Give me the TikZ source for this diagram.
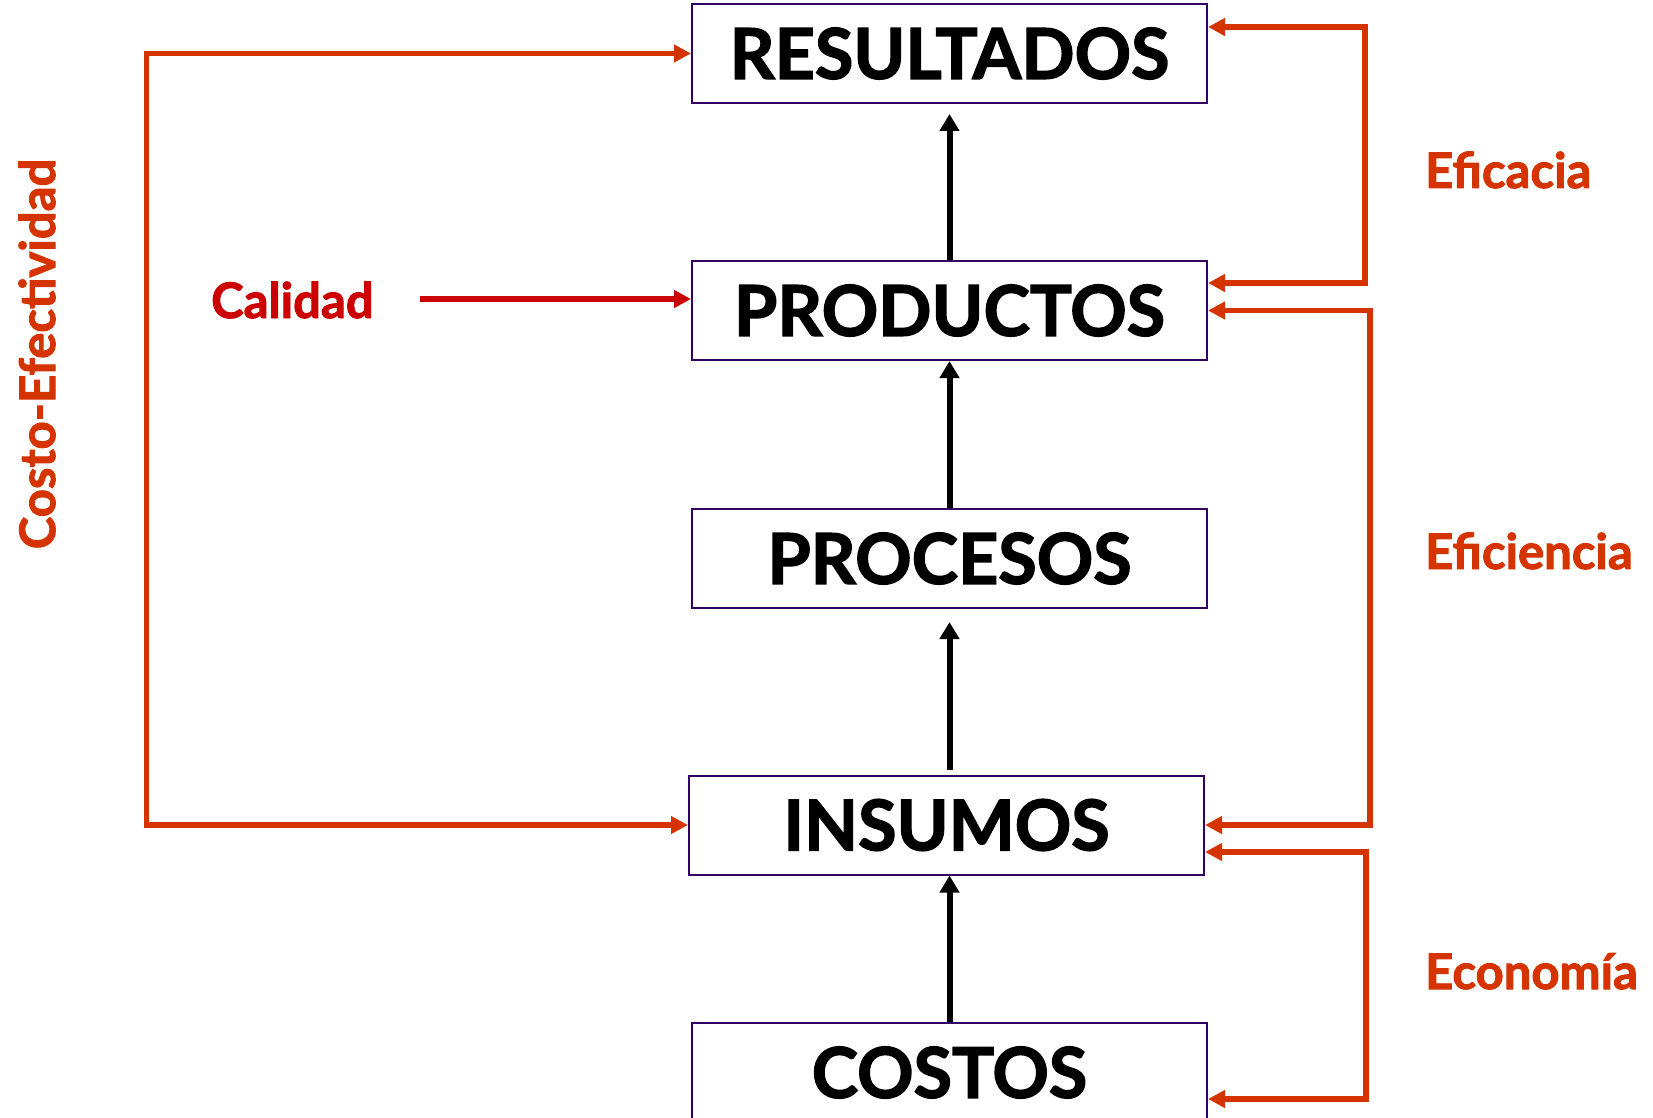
\documentclass[tikz,border=0pt]{standalone}
\usepackage{fontspec}
\setmainfont{Lato}[BoldFeatures={FakeBold=2}]
\usetikzlibrary{arrows.meta}
\definecolor{rojo}{RGB}{213,52,0}
\definecolor{rojocal}{RGB}{204,0,0}
\definecolor{borde}{RGB}{51,0,102}
\tikzset{
	caja/.style={draw=borde, line width=2pt, minimum width=515pt, minimum height=99pt, inner sep=0pt, font=\fontsize{70}{74}\selectfont\bfseries},
	flecha/.style={line width=6pt, -{Triangle[length=17pt,width=19pt]}},
	enlace/.style={draw=rojo, line width=5.5pt, {Triangle[length=17pt,width=17pt]}-{Triangle[length=17pt,width=17pt]}},
	etiqueta/.style={text=rojo, font=\fontsize{49}{53}\selectfont\bfseries, inner sep=0pt}
}
\begin{document}
\begin{tikzpicture}[x=1pt,y=-1pt]
	\useasboundingbox (0,0) rectangle (1653,1118);
	%\draw [help lines] (0,0) grid[step=100] (1653,1118);
	\node [caja] (res) at (949.5,53.5) {RESULTADOS};
	\node [caja] (prod) at (949.5,310.5) {PRODUCTOS};
	\node [caja] (proc) at (949.5,558.5) {PROCESOS};
	\node [caja] (ins) at (946.5,825) {INSUMOS};
	\node [caja] (cost) at (949.5,1072.5) {COSTOS};
	% cadena
	\draw [flecha] (prod.north) -- ([yshift=-10pt]res.south);
	\draw [flecha] (proc.north) -- (prod.south);
	\draw [flecha] ([yshift=5pt]proc.south |- ins.north) -- ([yshift=-13pt]proc.south);
	\draw [flecha] (cost.north) -- (cost.north |- ins.south);
	% indicadores
	\coordinate (ce) at (146.5,0);
	\draw [enlace] (ins.west) -- (ins.west -| ce) -- (res.west -| ce) -- (res.west);
	\node [etiqueta, rotate=90] (costoef) at (37,354) {Costo-Efectividad};
	\node [etiqueta, text=rojocal, anchor=base west] (cal) at (211,318) {Calidad};
	\coordinate (calini) at (420,299);
	\draw [enlace, draw=rojocal, -{Triangle[length=17pt,width=17pt]}] (calini) -- (calini -| prod.west);
	\coordinate (efa) at (1365,0);
	\draw [enlace] ([yshift=27.5pt]prod.east) -- ([yshift=27.5pt]prod.east -| efa) -- ([yshift=26.5pt]res.east -| efa) -- ([yshift=26.5pt]res.east);
	\node [etiqueta, anchor=base west] (eficacia) at (1425,188) {Eficacia};
	\coordinate (efi) at (1370,0);
	\draw [enlace] (prod.east) -- (prod.east -| efi) -- (ins.east -| efi) -- (ins.east);
	\node [etiqueta, anchor=base west] (eficiencia) at (1425,569) {Eficiencia};
	\coordinate (eco) at (1366,0);
	\draw [enlace] ([yshift=-27pt]ins.east) -- ([yshift=-27pt]ins.east -| eco) -- ([yshift=-26.5pt]cost.east -| eco) -- ([yshift=-26.5pt]cost.east);
	\node [etiqueta, anchor=base west] (economia) at (1425,989) {Economía};
\end{tikzpicture}
\end{document}
